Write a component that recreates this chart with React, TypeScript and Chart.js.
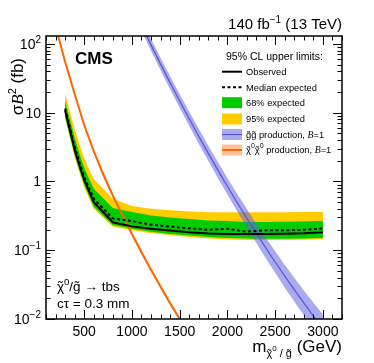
import React, { useEffect, useRef } from "react";
import { Chart, registerables } from "chart.js";
Chart.register(...registerables);

// ---------- data ----------
const limitMass = [300, 350, 400, 450, 500, 550, 600, 800, 1000, 1200, 1400, 1600, 1800, 2000, 2200, 2400, 2600, 2800, 3000];
const observed = [10.7, 5.6, 2.9, 1.7, 1.05, 0.72, 0.5, 0.255, 0.222, 0.205, 0.193, 0.183, 0.175, 0.172, 0.172, 0.172, 0.173, 0.176, 0.182];
const expected = [11.5, 6.1, 3.2, 1.9, 1.17, 0.8, 0.56, 0.29, 0.265, 0.235, 0.22, 0.208, 0.198, 0.205, 0.186, 0.195, 0.195, 0.198, 0.207];
const exp68Up = [14.8, 8.0, 4.3, 2.55, 1.6, 1.1, 0.78, 0.41, 0.36, 0.32, 0.3, 0.285, 0.27, 0.265, 0.258, 0.258, 0.26, 0.262, 0.265];
const exp68Down = [8.8, 4.6, 2.45, 1.45, 0.9, 0.62, 0.43, 0.232, 0.205, 0.185, 0.172, 0.163, 0.155, 0.15, 0.148, 0.147, 0.147, 0.148, 0.15];
const exp95Up = [18.6, 10.5, 5.8, 3.5, 2.2, 1.5, 1.08, 0.56, 0.44, 0.4, 0.38, 0.365, 0.355, 0.355, 0.355, 0.355, 0.356, 0.358, 0.36];
const exp95Down = [8.2, 4.25, 2.25, 1.33, 0.83, 0.57, 0.4, 0.22, 0.195, 0.177, 0.165, 0.156, 0.148, 0.143, 0.141, 0.141, 0.141, 0.142, 0.144];

const gluinoMass = [1100, 1200, 1300, 1400, 1500, 1600, 1700, 1800, 1900, 2000, 2100, 2200, 2300, 2400, 2500, 2600, 2700, 2800, 2900, 3000];
const gluinoXsec = [186, 96.6, 50.7, 27.2, 14.8, 8.13, 4.53, 2.56, 1.46, 0.851, 0.499, 0.296, 0.179, 0.109, 0.0673, 0.0421, 0.0267, 0.0171, 0.0111, 0.00735];
const gluinoXsecUp = [224, 117.5, 62.4, 33.7, 18.5, 10.3, 5.79, 3.3, 1.91, 1.12, 0.668, 0.404, 0.247, 0.153, 0.0966, 0.0615, 0.0397, 0.0259, 0.0173, 0.0116];
const gluinoXsecDown = [155, 79.4, 41.2, 21.9, 11.8, 6.43, 3.54, 1.98, 1.12, 0.646, 0.372, 0.218, 0.129, 0.0773, 0.0469, 0.0288, 0.0179, 0.0113, 0.0072, 0.00463];

const chiMass = [200, 300, 400, 500, 600, 700, 800, 900, 1000, 1100, 1200, 1300, 1400, 1500, 1600];
const chiXsec = [180, 55, 18.6, 6.6, 2.75, 1.26, 0.62, 0.324, 0.172, 0.0933, 0.0519, 0.0295, 0.017, 0.01, 0.006];
const chiXsecUp = [193, 59, 19.9, 7.06, 2.94, 1.35, 0.663, 0.347, 0.184, 0.0998, 0.0555, 0.0316, 0.0182, 0.0107, 0.0064];
const chiXsecDown = [168, 51.4, 17.4, 6.17, 2.57, 1.18, 0.579, 0.303, 0.161, 0.0872, 0.0485, 0.0276, 0.0159, 0.00935, 0.0056];

const xMin = 100;
const xMax = 3200;
const yMin = 0.01;
const yMax = 130;
const xTickValues = [500, 1000, 1500, 2000, 2500, 3000];
const xTickLabels = ["500", "1000", "1500", "2000", "2500", "3000"];
const xMinorStep = 100;
const yTickValues = [0.01, 0.1, 1, 10, 100];
const yTickBases = ["10", "10", "1", "10", "10"];
const yTickExps = ["\u22122", "\u22121", "", "", "2"];

const legendHeader = "95% CL upper limits:";
const legendLabels = ["Observed", "Median expected", "68% expected", "95% expected"];

// ---------- styles ----------
const GREEN = "#00cc00";
const YELLOW = "#ffcc00";
const BLUE_BAND = "rgba(100,100,225,0.55)";
const BLUE_LINE = "rgb(85,85,215)";
const ORANGE_BAND = "rgba(255,120,40,0.45)";
const ORANGE_LINE = "rgb(255,102,0)";

const SANS = '"Liberation Sans", Arial, Helvetica, sans-serif';
const SERIF = '"Liberation Serif", "Times New Roman", serif';

type Seg = { t: string; size: number; fam?: string; style?: string; weight?: string; dy?: number; tilde?: boolean };

function fontOf(s: Seg) {
  return `${s.style || "normal"} ${s.weight || "normal"} ${s.size}px ${s.fam || SANS}`;
}
function richWidth(ctx: CanvasRenderingContext2D, segs: Seg[]) {
  let w = 0;
  for (const s of segs) {
    ctx.font = fontOf(s);
    w += ctx.measureText(s.t).width;
  }
  return w;
}
function drawRich(ctx: CanvasRenderingContext2D, segs: Seg[], x: number, y: number, align: "left" | "right" | "center" = "left") {
  const w = richWidth(ctx, segs);
  let cx = align === "left" ? x : align === "right" ? x - w : x - w / 2;
  ctx.textAlign = "left";
  ctx.textBaseline = "alphabetic";
  for (const s of segs) {
    ctx.font = fontOf(s);
    const sw = ctx.measureText(s.t).width;
    const yy = y + (s.dy || 0);
    ctx.fillText(s.t, cx, yy);
    if (s.tilde) {
      const tw = ctx.measureText("\u02DC").width;
      ctx.fillText("\u02DC", cx + (sw - tw) / 2, yy);
    }
    cx += sw;
  }
}

function pts(xs: number[], ys: number[]) {
  return xs.map((x, i) => ({ x, y: ys[i] }));
}

const decorPlugin = {
  id: "decor",
  afterDraw(chart: any) {
    const ctx: CanvasRenderingContext2D = chart.ctx;
    const a = chart.chartArea;
    const xs = chart.scales.x;
    const ys = chart.scales.y;
    ctx.save();
    ctx.fillStyle = "#000";
    ctx.strokeStyle = "#000";

    // ticks
    ctx.lineWidth = 1;
    const line = (x1: number, y1: number, x2: number, y2: number) => {
      ctx.beginPath();
      ctx.moveTo(x1, y1);
      ctx.lineTo(x2, y2);
      ctx.stroke();
    };
    for (let v = xMin; v <= xMax; v += xMinorStep) {
      const px = Math.round(xs.getPixelForValue(v)) + 0.5;
      const len = xTickValues.includes(v) ? 9 : 4.5;
      line(px, a.bottom, px, a.bottom - len);
      line(px, a.top, px, a.top + len);
    }
    for (let d = -2; d <= 2; d++) {
      for (let k = 1; k <= 9; k++) {
        const v = k * Math.pow(10, d);
        if (v < yMin || v > yMax) continue;
        const py = Math.round(ys.getPixelForValue(v)) + 0.5;
        const len = k === 1 ? 9 : 4.5;
        line(a.left, py, a.left + len, py);
        line(a.right, py, a.right - len, py);
      }
    }
    // frame
    ctx.lineWidth = 1.5;
    ctx.strokeRect(a.left, a.top, a.right - a.left, a.bottom - a.top);

    // x tick labels
    xTickValues.forEach((v, i) => {
      drawRich(ctx, [{ t: xTickLabels[i], size: 14 }], xs.getPixelForValue(v), a.bottom + 17, "center");
    });
    // y tick labels
    yTickValues.forEach((v, i) => {
      const py = ys.getPixelForValue(v);
      const segs: Seg[] = [{ t: yTickBases[i], size: 14 }];
      if (yTickExps[i]) segs.push({ t: yTickExps[i], size: 10, dy: -6 });
      drawRich(ctx, segs, a.left - 5, py + 5, "right");
    });

    // y title (rotated)
    ctx.save();
    ctx.translate(23, 0);
    ctx.rotate(-Math.PI / 2);
    drawRich(
      ctx,
      [
        { t: "\u03C3", size: 17 },
        { t: "B", size: 17, fam: SERIF, style: "italic" },
        { t: "2", size: 11, dy: -7 },
        { t: " (fb)", size: 17 },
      ],
      -58,
      0,
      "right"
    );
    ctx.restore();

    // x title
    drawRich(
      ctx,
      [
        { t: "m", size: 17 },
        { t: "\u03C7", size: 11, dy: 5, tilde: true },
        { t: "0", size: 8, dy: -1 },
        { t: " / ", size: 11, dy: 5 },
        { t: "g", size: 11, dy: 5, tilde: true },
        { t: " (GeV)", size: 17 },
      ],
      a.right,
      352,
      "right"
    );

    // lumi text
    drawRich(
      ctx,
      [
        { t: "140 fb", size: 15 },
        { t: "\u22121", size: 10, dy: -6 },
        { t: " (13 TeV)", size: 15 },
      ],
      a.right,
      29,
      "right"
    );

    // CMS
    drawRich(ctx, [{ t: "CMS", size: 17, weight: "bold" }], 75, 64);

    // bottom-left labels
    drawRich(
      ctx,
      [
        { t: "\u03C7", size: 13.5, tilde: true },
        { t: "0", size: 9.5, dy: -6 },
        { t: "/", size: 13.5 },
        { t: "g", size: 13.5, tilde: true },
        { t: " \u2192 tbs", size: 13.5 },
      ],
      57,
      291
    );
    drawRich(ctx, [{ t: "c\u03C4 = 0.3 mm", size: 13.5 }], 57, 308);

    // legend
    const lx0 = 222, lx1 = 242, tx = 246, fs = 9.3;
    const rows = [71.7, 87.3, 102.7, 119, 134.5, 150];
    drawRich(ctx, [{ t: legendHeader, size: 10.5 }], 226, 59.5);
    // observed
    ctx.lineWidth = 2;
    ctx.strokeStyle = "#000";
    line(lx0, rows[0], lx1, rows[0]);
    // expected
    ctx.setLineDash([3, 2.5]);
    line(lx0, rows[1], lx1, rows[1]);
    ctx.setLineDash([]);
    // bands
    ctx.fillStyle = GREEN;
    ctx.fillRect(lx0, rows[2] - 5.5, lx1 - lx0, 11);
    ctx.fillStyle = YELLOW;
    ctx.fillRect(lx0, rows[3] - 5.5, lx1 - lx0, 11);
    ctx.fillStyle = BLUE_BAND;
    ctx.fillRect(lx0, rows[4] - 5.5, lx1 - lx0, 11);
    ctx.strokeStyle = BLUE_LINE;
    ctx.lineWidth = 1.2;
    line(lx0, rows[4], lx1, rows[4]);
    ctx.fillStyle = ORANGE_BAND;
    ctx.fillRect(lx0, rows[5] - 5.5, lx1 - lx0, 11);
    ctx.strokeStyle = ORANGE_LINE;
    ctx.lineWidth = 2;
    line(lx0, rows[5], lx1, rows[5]);

    ctx.fillStyle = "#000";
    legendLabels.forEach((t, i) => drawRich(ctx, [{ t, size: fs }], tx, rows[i] + 3.4));
    drawRich(
      ctx,
      [
        { t: "g", size: fs, tilde: true },
        { t: "g", size: fs, tilde: true },
        { t: " production, ", size: fs },
        { t: "B", size: fs + 0.5, fam: SERIF, style: "italic" },
        { t: "=1", size: fs },
      ],
      tx,
      rows[4] + 3.4
    );
    drawRich(
      ctx,
      [
        { t: "\u03C7", size: fs, tilde: true },
        { t: "0", size: 7, dy: -5 },
        { t: "\u03C7", size: fs, tilde: true },
        { t: "0", size: 7, dy: -5 },
        { t: " production, ", size: fs },
        { t: "B", size: fs + 0.5, fam: SERIF, style: "italic" },
        { t: "=1", size: fs },
      ],
      tx,
      rows[5] + 3.4
    );

    ctx.restore();
  },
};

export default function App() {
  const ref = useRef<HTMLCanvasElement | null>(null);
  useEffect(() => {
    document.body.style.margin = "0";
    document.body.style.background = "#fff";
    if (!ref.current) return;
    const band = (xs: number[], ys: number[], color: string, fill: any, order: number) => ({
      data: pts(xs, ys),
      borderWidth: 0,
      borderColor: "rgba(0,0,0,0)",
      backgroundColor: color,
      pointRadius: 0,
      fill,
      order,
      tension: 0,
    });
    const chart = new Chart(ref.current, {
      type: "line",
      data: {
        datasets: [
          { label: "Observed", data: pts(limitMass, observed), borderColor: "#000", borderWidth: 2, pointRadius: 0, fill: false, order: 1, tension: 0 },
          { label: "Median expected", data: pts(limitMass, expected), borderColor: "#000", borderWidth: 2, borderDash: [3, 2.5], pointRadius: 0, fill: false, order: 2, tension: 0 },
          { label: "gluino", data: pts(gluinoMass, gluinoXsec), borderColor: BLUE_LINE, borderWidth: 1.2, pointRadius: 0, fill: false, order: 3, tension: 0 },
          { label: "chi", data: pts(chiMass, chiXsec), borderColor: ORANGE_LINE, borderWidth: 2, pointRadius: 0, fill: false, order: 3, tension: 0 },
          band(gluinoMass, gluinoXsecUp, BLUE_BAND, 5, 4),
          band(gluinoMass, gluinoXsecDown, BLUE_BAND, false, 4),
          band(chiMass, chiXsecUp, ORANGE_BAND, 7, 4),
          band(chiMass, chiXsecDown, ORANGE_BAND, false, 4),
          band(limitMass, exp68Up, GREEN, 9, 8),
          band(limitMass, exp68Down, GREEN, false, 8),
          band(limitMass, exp95Up, YELLOW, 11, 9),
          band(limitMass, exp95Down, YELLOW, false, 9),
        ] as any,
      },
      options: {
        animation: false,
        responsive: false,
        maintainAspectRatio: false,
        layout: { padding: { left: 46, right: 32, top: 36, bottom: 44 } },
        plugins: { legend: { display: false }, tooltip: { enabled: false } },
        scales: {
          x: { type: "linear", min: xMin, max: xMax, display: false },
          y: { type: "logarithmic", min: yMin, max: yMax, display: false },
        },
      } as any,
      plugins: [decorPlugin],
    });
    return () => chart.destroy();
  }, []);
  return (
    <div style={{ width: 374, height: 363 }}>
      <canvas ref={ref} width={374} height={363} style={{ display: "block" }} />
    </div>
  );
}
